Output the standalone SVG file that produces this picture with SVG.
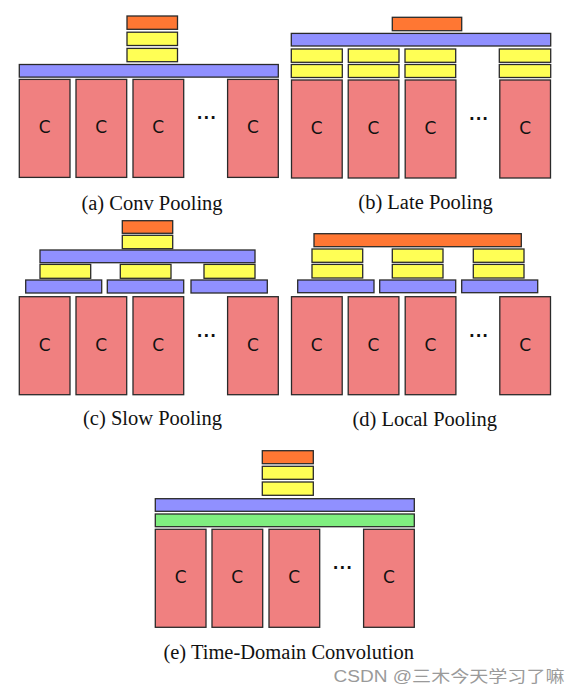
<svg xmlns="http://www.w3.org/2000/svg" width="580" height="695" viewBox="0 0 580 695">
<style>
.c,.b,.y,.o,.g{stroke:#2a2a2a;stroke-width:1.3}
.c{fill:#f08080}
.b{fill:#9090ff}
.y{fill:#ffff55}
.o{fill:#ff7733}
.g{fill:#80ee80}
.l{font-family:"DejaVu Sans",sans-serif;font-size:17px;text-anchor:middle;fill:#111}
.d{font-family:"DejaVu Sans",sans-serif;font-size:15px;font-weight:bold;text-anchor:middle;fill:#111;letter-spacing:1px}
.cap{font-family:"Liberation Serif",serif;font-size:20.5px;text-anchor:middle;fill:#111}
.wm{font-family:"Liberation Sans","Noto Sans CJK SC",sans-serif;font-size:16px;fill:#9a9a9a}
</style>
<rect width="580" height="695" fill="#ffffff"/>
<defs>
<g id="cols">
<rect class="c" x="0" y="0" width="50.7" height="98"/>
<text class="l" x="25.3" y="54">C</text>
<rect class="c" x="56.7" y="0" width="50.7" height="98"/>
<text class="l" x="82" y="54">C</text>
<rect class="c" x="113.7" y="0" width="50.7" height="98"/>
<text class="l" x="139" y="54">C</text>
<text class="d" x="187.5" y="40">...</text>
<rect class="c" x="208.3" y="0" width="50.7" height="98"/>
<text class="l" x="233.7" y="54">C</text>
</g>
</defs>

<g id="panel-a">
<rect class="o" x="127" y="16" width="50.5" height="13.3"/>
<rect class="y" x="127" y="32.2" width="50.5" height="13.3"/>
<rect class="y" x="127" y="48.4" width="50.5" height="13.3"/>
<rect class="b" x="19.3" y="64.5" width="259" height="12.6"/>
<use href="#cols" x="19.3" y="79.4"/>
<text class="cap" x="152" y="210">(a) Conv Pooling</text>
</g>

<g id="panel-b">
<rect class="o" x="392.3" y="17.3" width="69.4" height="13.4"/>
<rect class="b" x="291.3" y="33.4" width="259.4" height="12.6"/>
<rect class="y" x="291.3" y="49" width="51" height="13.3"/>
<rect class="y" x="348.3" y="49" width="50.7" height="13.3"/>
<rect class="y" x="405" y="49" width="50.7" height="13.3"/>
<rect class="y" x="499.3" y="49" width="51.4" height="13.3"/>
<rect class="y" x="291.3" y="64.5" width="51" height="13"/>
<rect class="y" x="348.3" y="64.5" width="50.7" height="13"/>
<rect class="y" x="405" y="64.5" width="50.7" height="13"/>
<rect class="y" x="499.3" y="64.5" width="51.4" height="13"/>
<use href="#cols" x="291.5" y="80"/>
<text class="cap" x="425.5" y="209">(b) Late Pooling</text>
</g>

<g id="panel-c">
<rect class="o" x="122.3" y="220.7" width="50.4" height="12.6"/>
<rect class="y" x="122.3" y="235.3" width="50.4" height="13.4"/>
<rect class="b" x="40" y="250" width="215" height="12.7"/>
<rect class="y" x="40" y="264.4" width="50.7" height="13.9"/>
<rect class="y" x="120.3" y="264.4" width="50.7" height="13.9"/>
<rect class="y" x="204" y="264.4" width="51" height="13.9"/>
<rect class="b" x="25.7" y="280" width="76" height="13"/>
<rect class="b" x="107.3" y="280" width="76.4" height="13"/>
<rect class="b" x="191" y="280" width="76.3" height="13"/>
<use href="#cols" x="19.3" y="296.7"/>
<text class="cap" x="152.5" y="425">(c) Slow Pooling</text>
</g>

<g id="panel-d">
<rect class="o" x="314" y="233.7" width="207.3" height="13"/>
<rect class="y" x="312" y="249" width="50.7" height="13.3"/>
<rect class="y" x="392.3" y="249" width="50.7" height="13.3"/>
<rect class="y" x="473.3" y="249" width="50.7" height="13.3"/>
<rect class="y" x="312" y="264.4" width="50.7" height="13.6"/>
<rect class="y" x="392.3" y="264.4" width="50.7" height="13.6"/>
<rect class="y" x="473.3" y="264.4" width="50.7" height="13.6"/>
<rect class="b" x="297.7" y="280" width="76.3" height="12.7"/>
<rect class="b" x="379.7" y="280" width="76" height="12.7"/>
<rect class="b" x="461.7" y="280" width="76" height="12.7"/>
<use href="#cols" x="291.5" y="296.7"/>
<text class="cap" x="424.7" y="425.5">(d) Local Pooling</text>
</g>

<g id="panel-e">
<rect class="o" x="262.3" y="450.7" width="51" height="13"/>
<rect class="y" x="262.3" y="466.3" width="51" height="13"/>
<rect class="y" x="262.3" y="482" width="51" height="13.3"/>
<rect class="b" x="155.3" y="498.7" width="259" height="12.6"/>
<rect class="g" x="155.3" y="514" width="259" height="12.7"/>
<use href="#cols" x="155.3" y="529.3"/>
<text class="cap" x="288.7" y="659">(e) Time-Domain Convolution</text>
</g>

<g id="connectors"></g>

<text class="wm" x="333.5" y="682" textLength="231" lengthAdjust="spacingAndGlyphs">CSDN @三木今天学习了嘛</text>
</svg>
